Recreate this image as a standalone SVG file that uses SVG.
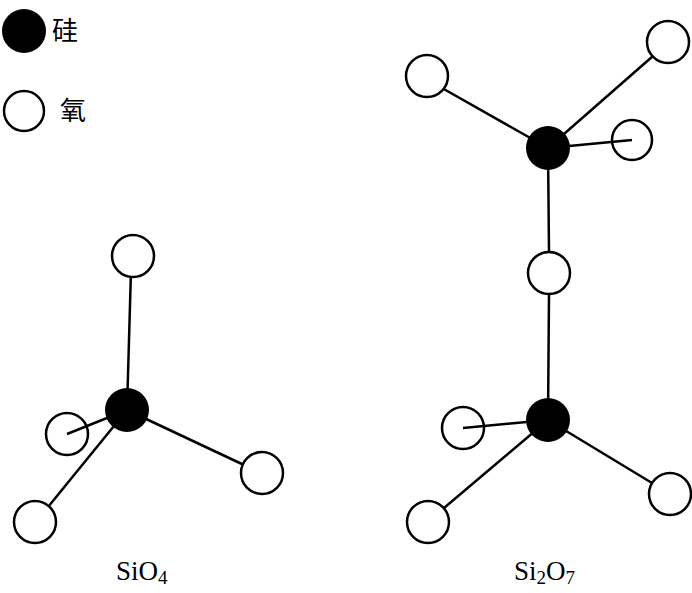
<svg xmlns="http://www.w3.org/2000/svg" width="692" height="593" viewBox="0 0 692 593">
<style>
.o{fill:#fff;stroke:#000;stroke-width:2.5}
.s{fill:#000}
.l{stroke:#000;stroke-width:2.5;fill:none}
.t{font-family:"Liberation Serif",serif;font-size:27px}
.c{font-family:"Noto Sans CJK SC",sans-serif;font-size:26px}
</style>
<rect width="692" height="593" fill="#fff"/>
<g id="legend">
<circle class="s" cx="24" cy="31" r="22"/><text class="c" x="52" y="40">硅</text>
<circle class="o" cx="24" cy="111" r="20"/><text class="c" x="60" y="120">氧</text>
</g>
<g id="SiO4_O_back">
<circle class="o" cx="67" cy="434" r="21"/>
</g>
<g id="SiO4_connectors">
<line class="l" x1="127" y1="410" x2="131" y2="270"/>
<line class="l" x1="127" y1="410" x2="67" y2="434"/>
<line class="l" x1="127" y1="410" x2="48" y2="507"/>
<line class="l" x1="127" y1="410" x2="244" y2="465"/>
</g>
<g id="SiO4">
<circle class="o" cx="133" cy="256" r="21"/>
<circle class="o" cx="35" cy="522" r="21"/>
<circle class="o" cx="262" cy="473" r="21"/>
<circle class="s" cx="127" cy="410" r="22"/>
<text class="t" x="116" y="580">SiO<tspan font-size="19" dy="4">4</tspan></text>
</g>
<g id="Si2O7_O_back">
<circle class="o" cx="632" cy="140" r="20"/>
<circle class="o" cx="463" cy="428" r="21"/>
</g>
<g id="Si2O7_connectors">
<line class="l" x1="548" y1="148" x2="442" y2="88"/>
<line class="l" x1="548" y1="148" x2="653" y2="56"/>
<line class="l" x1="548" y1="148" x2="632" y2="140"/>
<line class="l" x1="548" y1="148" x2="549" y2="252"/>
<line class="l" x1="549" y1="294" x2="548" y2="420"/>
<line class="l" x1="548" y1="420" x2="463" y2="428"/>
<line class="l" x1="548" y1="420" x2="444" y2="508"/>
<line class="l" x1="548" y1="420" x2="652" y2="483"/>
</g>
<g id="Si2O7">
<circle class="o" cx="427" cy="76" r="21"/>
<circle class="o" cx="668" cy="42" r="21"/>
<circle class="o" cx="549" cy="273" r="21"/>
<circle class="o" cx="428" cy="522" r="21"/>
<circle class="o" cx="670" cy="494" r="21"/>
<circle class="s" cx="548" cy="148" r="22"/>
<circle class="s" cx="548" cy="420" r="22"/>
<text class="t" x="514" y="580">Si<tspan font-size="19" dy="4">2</tspan><tspan dy="-4">O</tspan><tspan font-size="19" dy="4">7</tspan></text>
</g>
</svg>
